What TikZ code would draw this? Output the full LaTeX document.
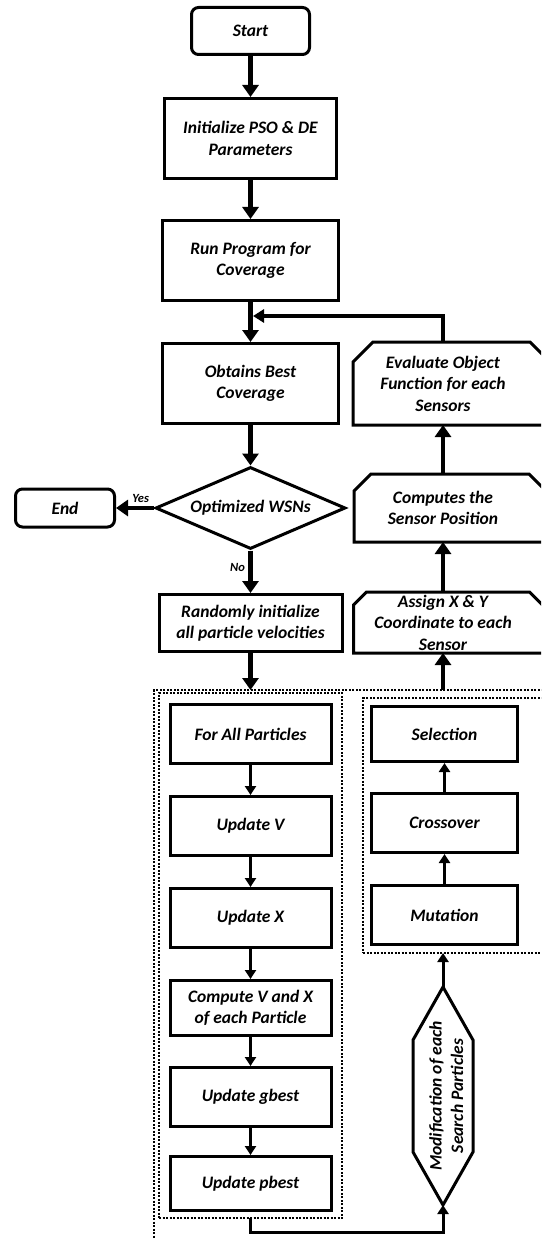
\documentclass[tikz,border=0pt]{standalone}
\usepackage{fontspec}
\setmainfont{Carlito}
\usepackage{graphicx}
\usetikzlibrary{arrows.meta, shapes.geometric, positioning}

\tikzset{
  box/.style={draw, line width=3pt, align=center, inner sep=2pt,
    font=\bfseries\itshape\fontsize{17.5}{21.5}\selectfont},
  term/.style={box, rounded corners=7pt},
  cond/.style={box, diamond, shape aspect=2.26, inner sep=0pt},
  plain/.style={box, draw=none, outer sep=0pt},
  dotbox/.style={draw, line width=1.5pt, dash pattern=on 2pt off 1.5pt, inner sep=0pt, outer sep=0pt},
  flow/.style={line width=4.5pt, -{Triangle[length=12pt, width=16pt]}},
  link/.style={line width=3pt, -{Triangle[length=9pt, width=11pt]}},
  lbl/.style={font=\bfseries\itshape\fontsize{12.5}{14}\selectfont}
}

% box with cut top corners, drawn round a plain node
\newcommand{\chamfer}[2]{%
  \draw[line width=3pt] ([yshift=-#2pt]#1.north west) -- ([xshift=#2pt]#1.north west)
    -- ([xshift=-3pt]#1.north east) -- ([xshift=17pt, yshift=-20pt]#1.north east)
    -- ([xshift=17pt]#1.south east) -- (#1.south west) -- cycle;}

\begin{document}
\begin{tikzpicture}[x=1pt, y=-1pt]
  \useasboundingbox (0,0) rectangle (541,1238);
  \clip (0,0) rectangle (541,1238);

  % Main column
  \node[term, minimum width=118, minimum height=47] (start) at (250.5,31) {Start};
  \node[box, minimum width=172, minimum height=80] (init) at (250.5,138.5) {Initialize PSO \& DE\\Parameters};
  \node[box, minimum width=176, minimum height=80] (run) at (250.5,260.5) {Run Program for\\Coverage};
  \node[box, minimum width=176, minimum height=80] (obtain) at (250.5,383.5) {Obtains Best\\Coverage};
  \node[cond, minimum width=190, minimum height=82] (decide) at (250.5,508) {Optimized WSNs};
  \node[term, minimum width=99, minimum height=38] (finish) at (65,508) {End};
  \node[box, minimum width=183, minimum height=57] (rand) at (250.5,623) {Randomly initialize\\all particle velocities};

  % Dotted groups
  \node[dotbox, minimum width=446, minimum height=610] (hybrid) at (377,995) {};
  \node[dotbox, minimum width=183, minimum height=525] (psobox) at (250.5,955.5) {};
  \node[dotbox, minimum width=197, minimum height=255] (debox) at (461.5,825.5) {};

  % PSO steps
  \node[box, minimum width=161, minimum height=59] (forall) at (250.5,734) {For All Particles};
  \node[box, minimum width=161, minimum height=59] (updv) at (250.5,826) {Update V};
  \node[box, minimum width=161, minimum height=59] (updx) at (250.5,918) {Update X};
  \node[box, minimum width=161, minimum height=55] (comp) at (250.5,1008) {Compute V and X\\of each Particle};
  \node[box, minimum width=161, minimum height=59] (gbest) at (250.5,1097) {Update gbest};
  \node[box, minimum width=161, minimum height=54] (pbest) at (250.5,1183.5) {Update pbest};

  % DE steps
  \node[box, minimum width=146, minimum height=55] (sel) at (444.5,734) {Selection};
  \node[box, minimum width=146, minimum height=59] (cross) at (444.5,823) {Crossover};
  \node[box, minimum width=146, minimum height=59] (mut) at (444.5,915) {Mutation};

  % Right column
  \node[plain, minimum width=180, minimum height=83] (eval) at (443,383.5) {Evaluate Object\\Function for each\\Sensors};
  \chamfer{eval}{20}
  \node[plain, minimum width=178, minimum height=68] (sensp) at (443,508) {Computes the\\Sensor Position};
  \chamfer{sensp}{17}
  \node[plain, inner sep=0pt, minimum width=179, minimum height=61] (assign) at (443,622.5) {Assign X \& Y\\Coordinate to each\\Sensor};
  \chamfer{assign}{13}
  \node[plain, minimum width=60, minimum height=218] (modif) at (443,1096)
    {\hspace*{10pt}\rotatebox{90}{\begin{tabular}{@{}c@{}}Modification of each\\Search Particles\end{tabular}}};
  \draw[line width=3pt] (modif.north) -- ([yshift=-53pt]modif.north east) -- ([yshift=53pt]modif.south east)
    -- (modif.south) -- ([yshift=53pt]modif.south west) -- ([yshift=-53pt]modif.north west) -- cycle;

  % Connectors
  \coordinate (merge) at (253,316);
  \draw[flow] (start) -- (init);
  \draw[flow] (init) -- (run);
  \draw[flow] (run) -- (obtain);
  \draw[flow] (obtain) -- (decide);
  \draw[flow] (decide.west) -- node[lbl, above, pos=0.35] {Yes} (finish.east);
  \draw[flow] (decide.south) -- node[lbl, left, pos=0.4] {No} (rand.north);
  \draw[flow] (rand.south) -- (rand.south |- hybrid.north);
  \draw[link] (forall) -- (updv);
  \draw[link] (updv) -- (updx);
  \draw[link] (updx) -- (comp);
  \draw[link] (comp) -- (gbest);
  \draw[link] (gbest) -- (pbest);
  \draw[link] (psobox.south) -- ++(0,14) -| (modif.south);
  \draw[link] (modif.north) -- (modif.north |- debox.south);
  \draw[link] (mut) -- (cross);
  \draw[link] (cross) -- (sel);
  \draw[flow] (assign.south |- hybrid.north) -- (assign.south);
  \draw[flow] (assign.north) -- (sensp.south);
  \draw[flow] (sensp.north) -- (eval.south);
  \draw[line width=4pt, -{Triangle[length=11pt, width=13pt]}] (eval.north) |- (merge);
\end{tikzpicture}
\end{document}
